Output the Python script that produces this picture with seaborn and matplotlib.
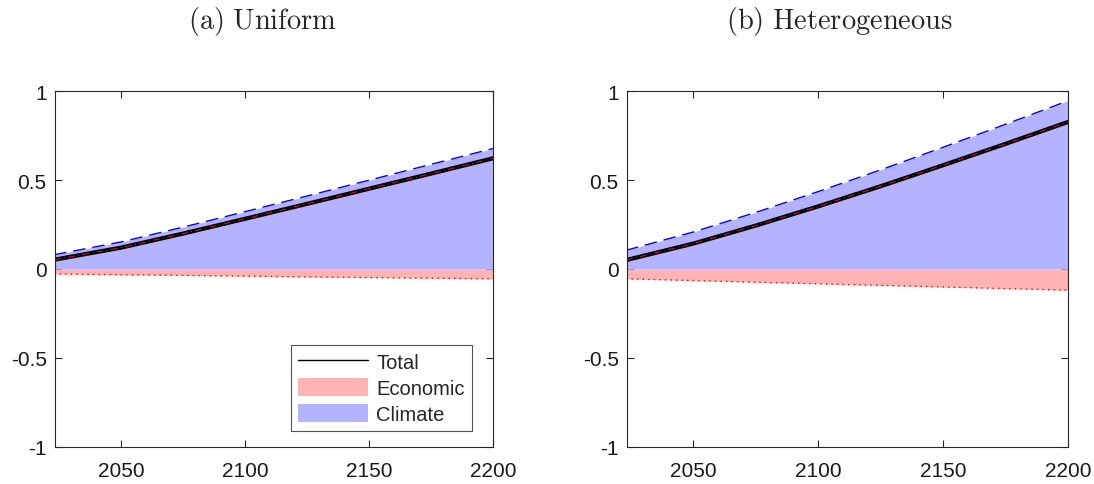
import matplotlib
matplotlib.use("Agg")
import matplotlib.pyplot as plt
import seaborn as sns
import pandas as pd
from matplotlib.lines import Line2D
from matplotlib.patches import Patch

years = [2023, 2050, 2075, 2100, 2125, 2150, 2175, 2200]

# (a) Uniform
uni_total = [0.052, 0.12, 0.199, 0.282, 0.366, 0.451, 0.536, 0.622]
uni_econ = [-0.028, -0.032, -0.036, -0.04, -0.044, -0.048, -0.052, -0.055]
uni_climate = [0.08, 0.152, 0.235, 0.322, 0.41, 0.499, 0.588, 0.677]

# (b) Heterogeneous
het_total = [0.05, 0.143, 0.244, 0.352, 0.465, 0.583, 0.703, 0.826]
het_econ = [-0.055, -0.065, -0.074, -0.083, -0.092, -0.101, -0.11, -0.119]
het_climate = [0.105, 0.208, 0.318, 0.435, 0.557, 0.684, 0.813, 0.945]

titles = [r"$\mathrm{(a)\ Uniform}$", r"$\mathrm{(b)\ Heterogeneous}$"]
yticks = [-1, -0.5, 0, 0.5, 1]
ytick_labels = ["-1", "-0.5", "0", "0.5", "1"]
xticks = [2050, 2100, 2150, 2200]

sns.set_style("white")
plt.rcParams["font.family"] = ["Liberation Sans", "DejaVu Sans"]
plt.rcParams["mathtext.fontset"] = "cm"
plt.rcParams["axes.unicode_minus"] = False

blue_fill = "#b3b3ff"
red_fill = "#ffb3b3"
edge = "#262626"

fig = plt.figure(figsize=(10.94, 4.85), dpi=100)
ax1 = fig.add_axes([0.0503, 0.0763, 0.4004, 0.734])
ax2 = fig.add_axes([0.5731, 0.0763, 0.4031, 0.734])

panels = [
    (ax1, uni_total, uni_econ, uni_climate),
    (ax2, het_total, het_econ, het_climate),
]

for ax, total, econ, climate in panels:
    df = pd.DataFrame({"year": years, "total": total,
                       "econ": econ, "climate": climate})
    ax.fill_between(df["year"], 0, df["climate"], color=blue_fill, lw=0)
    ax.fill_between(df["year"], 0, df["econ"], color=red_fill, lw=0)
    sns.lineplot(data=df, x="year", y="climate", ax=ax, color="blue",
                 lw=1, linestyle=(0, (9, 5)))
    sns.lineplot(data=df, x="year", y="econ", ax=ax, color="red",
                 lw=1, linestyle=(0, (1, 3)))
    sns.lineplot(data=df, x="year", y="total", ax=ax, color="black", lw=3)
    sns.lineplot(data=df, x="year", y="total", ax=ax, color="#cc1030",
                 lw=0.8, linestyle=(0, (6, 3, 1, 3)))

    ax.set_xlim(2023.4, 2200)
    ax.set_ylim(-1, 1)
    ax.set_xticks(xticks)
    ax.set_xticklabels([str(t) for t in xticks])
    ax.set_yticks(yticks)
    ax.set_yticklabels(ytick_labels)
    ax.set_xlabel("")
    ax.set_ylabel("")
    ax.tick_params(direction="in", length=5, width=0.8, colors=edge,
                   labelcolor="#1a1a1a", labelsize=15,
                   top=True, right=True, bottom=True, left=True)
    ax.tick_params(axis="x", pad=10)
    ax.tick_params(axis="y", pad=6)
    for sp in ax.spines.values():
        sp.set_visible(True)
        sp.set_color(edge)
        sp.set_linewidth(0.8)

handles = [
    Line2D([0], [0], color="black", lw=1),
    Patch(facecolor=red_fill, edgecolor="none"),
    Patch(facecolor=blue_fill, edgecolor="none"),
]
leg = ax1.legend(handles, ["Total", "Economic", "Climate"],
                 loc="lower right", bbox_to_anchor=(0.952, 0.045),
                 fontsize=14.5, frameon=True, fancybox=False,
                 handlelength=3.5, handleheight=1.0, labelspacing=0.3,
                 borderpad=0.35, handletextpad=0.4, borderaxespad=0)
leg.get_frame().set_edgecolor(edge)
leg.get_frame().set_linewidth(0.8)

fig.text(0.2404, 0.955, titles[0], ha="center", va="center", fontsize=20.5)
fig.text(0.767, 0.955, titles[1], ha="center", va="center", fontsize=20.5)

fig.savefig("out.png", dpi=100)
